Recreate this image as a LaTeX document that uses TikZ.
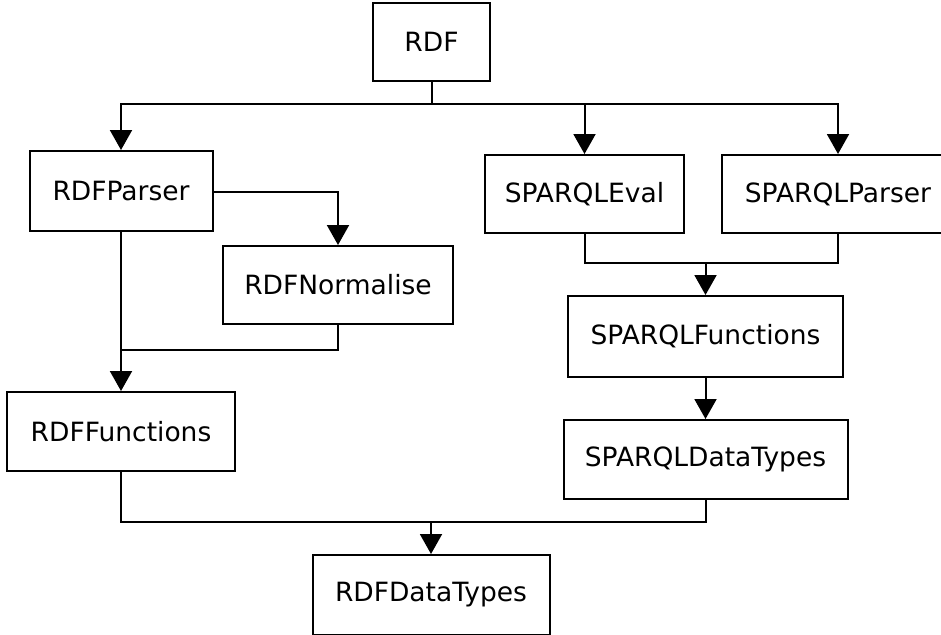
\documentclass[tikz,border=0pt]{standalone}
\usepackage{fontspec}
\setmainfont{DejaVu Sans}
\usetikzlibrary{arrows.meta}
\begin{document}
\begin{tikzpicture}[x=1pt,y=-1pt,
  box/.style={draw=black,line width=2pt,fill=white,inner sep=0pt,font=\fontsize{26.5}{30}\selectfont},
  conn/.style={draw=black,line width=2pt},
  arr/.style={conn,-{Triangle[width=22pt,length=20pt]}}]
\useasboundingbox (0,0) rectangle (941,634);
\clip (0,0) rectangle (941,634);
\node[box,minimum width=117pt,minimum height=78pt] (rdf) at (431.5,42) {RDF};
\node[box,minimum width=183pt,minimum height=80pt] (rdfparser) at (121,191) {RDFParser};
\node[box,minimum width=230pt,minimum height=78pt] (rdfnorm) at (338,285) {RDFNormalise};
\node[box,minimum width=199pt,minimum height=78pt] (speval) at (584.5,194) {SPARQLEval};
\node[box,minimum width=232pt,minimum height=78pt] (spparser) at (838,194) {SPARQLParser};
\node[box,minimum width=275pt,minimum height=81pt] (spfunc) at (705.5,336.5) {SPARQLFunctions};
\node[box,minimum width=284pt,minimum height=79pt] (spdt) at (705.5,459.5) {SPARQLDataTypes};
\node[box,minimum width=228pt,minimum height=79pt] (rdffunc) at (121,431.5) {RDFFunctions};
\node[box,minimum width=237pt,minimum height=80pt] (rdfdt) at (431,595) {RDFDataTypes};
% junction coordinates
\coordinate (j1) at (431.5,104);
\coordinate (j2) at (705.5,263);
\coordinate (j3) at (121,350);
\coordinate (j4) at (431,522);
% RDF fan-out
\draw[conn] (rdf.south) -- (j1);
\draw[arr] (j1) -| (rdfparser.north);
\draw[arr] (j1) -| (speval.north);
\draw[arr] (j1) -| (spparser.north);
% RDFParser -> RDFNormalise
\draw[arr] (rdfparser.east |- 0,192) -| (rdfnorm.north);
% RDFParser, RDFNormalise -> RDFFunctions
\draw[arr] (rdfparser.south) -- (rdffunc.north);
\draw[conn] (rdfnorm.south) |- (j3);
% SPARQLEval, SPARQLParser -> SPARQLFunctions
\draw[conn] (speval.south) |- (j2);
\draw[conn] (spparser.south) |- (j2);
\draw[arr] (j2) -- (spfunc.north);
% SPARQLFunctions -> SPARQLDataTypes
\draw[arr] (spfunc.south) -- (spdt.north);
% RDFFunctions, SPARQLDataTypes -> RDFDataTypes
\draw[conn] (rdffunc.south) |- (j4);
\draw[conn] (spdt.south) |- (j4);
\draw[arr] (j4) -- (rdfdt.north);
\end{tikzpicture}
\end{document}
